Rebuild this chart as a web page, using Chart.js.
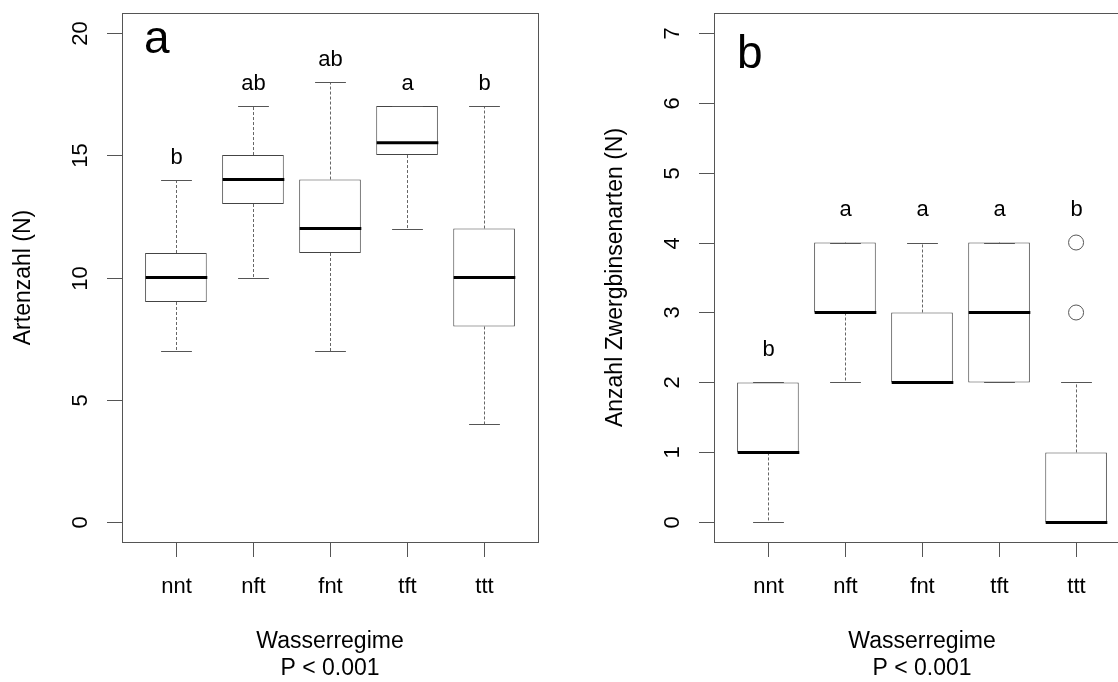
<!DOCTYPE html>
<html>
<head>
<meta charset="utf-8">
<script src="https://cdn.jsdelivr.net/npm/chart.js@4"></script>
<style>
  body { margin: 0; background: #fff; }
  #wrap { position: relative; width: 1118px; height: 682px; overflow: hidden; }
  canvas { position: absolute; top: 0; }
  #left { left: 0; }
  #right { left: 559px; }
</style>
</head>
<body>
<div id="wrap">
  <canvas id="left" width="559" height="682"></canvas>
  <canvas id="right" width="600" height="682"></canvas>
</div>
<script>
// Gruppen (Wasserregime)
const groups = ['nnt', 'nft', 'fnt', 'tft', 'ttt'];

// a: Artenzahl
const artenMin = [7, 10, 7, 12, 4];
const artenQ1 = [9, 13, 11, 15, 8];
const artenMed = [10, 14, 12, 15.5, 10];
const artenQ3 = [11, 15, 14, 17, 12];
const artenMax = [14, 17, 18, 17, 17];
const artenLetters = ['b', 'ab', 'ab', 'a', 'b'];
const artenLetterY = [15, 18, 19, 18, 18];
const artenTicks = [0, 5, 10, 15, 20];

// b: Anzahl Zwergbinsenarten
const zwergMin = [0, 2, 2, 2, 0];
const zwergQ1 = [1, 3, 2, 2, 0];
const zwergMed = [1, 3, 2, 3, 0];
const zwergQ3 = [2, 4, 3, 4, 1];
const zwergMax = [2, 4, 4, 4, 2];
const zwergOutX = ['ttt', 'ttt'];
const zwergOutY = [3, 4];
const zwergLetters = ['b', 'a', 'a', 'a', 'b'];
const zwergLetterY = [2.5, 4.5, 4.5, 4.5, 4.5];
const zwergTicks = [0, 1, 2, 3, 4, 5, 6, 7];

const FONT = '"Liberation Sans", Arial, sans-serif';

const boxPlugin = {
    id: 'boxplot',
    afterDatasetsDraw(chart, args, o) {
        const { ctx, scales: { x, y } } = chart;
        const capHalf = (x.getPixelForValue(1.2) - x.getPixelForValue(1));
        const boxHalf = (x.getPixelForValue(1.4) - x.getPixelForValue(1));
        ctx.save();
        o.min.forEach((mn, i) => {
            const cx = Math.round(x.getPixelForValue(i + 1)) + 0.5;
            const yMin = Math.round(y.getPixelForValue(mn)) + 0.5;
            const yMax = Math.round(y.getPixelForValue(o.max[i])) + 0.5;
            const yQ1 = y.getPixelForValue(o.q1[i]);
            const yQ3 = y.getPixelForValue(o.q3[i]);
            // whiskers
            ctx.strokeStyle = '#666';
            ctx.lineWidth = 1;
            ctx.setLineDash([3, 2]);
            ctx.beginPath();
            ctx.moveTo(cx, yQ3); ctx.lineTo(cx, yMax);
            ctx.moveTo(cx, yQ1); ctx.lineTo(cx, yMin);
            ctx.stroke();
            // caps
            ctx.setLineDash([]);
            ctx.strokeStyle = '#555';
            ctx.beginPath();
            ctx.moveTo(cx - capHalf, yMax); ctx.lineTo(cx + capHalf, yMax);
            ctx.moveTo(cx - capHalf, yMin); ctx.lineTo(cx + capHalf, yMin);
            ctx.stroke();
            // median
            const yMed = y.getPixelForValue(o.med[i]);
            ctx.strokeStyle = '#000';
            ctx.lineWidth = 3;
            ctx.beginPath();
            ctx.moveTo(cx - boxHalf, yMed); ctx.lineTo(cx + boxHalf, yMed);
            ctx.stroke();
            // Buchstaben
            ctx.fillStyle = '#000';
            ctx.font = '22px ' + FONT;
            ctx.textAlign = 'center';
            ctx.textBaseline = 'middle';
            ctx.fillText(o.letters[i], cx, y.getPixelForValue(o.letterY[i]) + 2.5);
        });
        ctx.restore();
    },
    afterDraw(chart, args, o) {
        const { ctx, chartArea: a, scales: { x, y } } = chart;
        ctx.save();
        ctx.strokeStyle = '#555';
        ctx.lineWidth = 1;
        ctx.strokeRect(a.left + 0.5, a.top + 0.5, a.right - a.left, a.bottom - a.top);
        ctx.fillStyle = '#000';
        ctx.font = '22px ' + FONT;
        // y axis
        o.ticks.forEach(t => {
            const py = Math.round(y.getPixelForValue(t)) + 0.5;
            ctx.beginPath();
            ctx.moveTo(a.left - 15, py); ctx.lineTo(a.left, py);
            ctx.stroke();
            ctx.save();
            ctx.translate(a.left - 41, py);
            ctx.rotate(-Math.PI / 2);
            ctx.textAlign = 'center';
            ctx.textBaseline = 'middle';
            ctx.fillText(String(t), 0, 0);
            ctx.restore();
        });
        // x axis
        groups.forEach((g, i) => {
            const px = Math.round(x.getPixelForValue(i + 1)) + 0.5;
            ctx.beginPath();
            ctx.moveTo(px, a.bottom); ctx.lineTo(px, a.bottom + 15);
            ctx.stroke();
            ctx.textAlign = 'center';
            ctx.textBaseline = 'middle';
            ctx.fillText(g, px, a.bottom + 45);
        });
        const mid = (x.getPixelForValue(0.3) + x.getPixelForValue(5.7)) / 2;
        ctx.font = '23px ' + FONT;
        ctx.fillText('Wasserregime', mid, a.bottom + 100);
        ctx.fillText('P < 0.001', mid, a.bottom + 127);
        ctx.save();
        ctx.translate(a.left - 98, (a.top + a.bottom) / 2);
        ctx.rotate(-Math.PI / 2);
        ctx.fillText(o.title, 0, 0);
        ctx.restore();
        // Panelbuchstabe
        ctx.font = '46px ' + FONT;
        ctx.textAlign = 'left';
        ctx.textBaseline = 'alphabetic';
        ctx.fillText(o.panel, a.left + o.panelDx, a.top + o.panelDy);
        ctx.restore();
    }
};

function makeChart(id, d) {
    const datasets = [{
        type: 'bar',
        data: groups.map((g, i) => ({ x: i + 1, y: [d.q1[i], d.q3[i]] })),
        backgroundColor: '#fff',
        borderColor: '#444',
        borderWidth: 1,
        borderSkipped: false,
        barPercentage: 0.8,
        categoryPercentage: 1
    }];
    if (d.outX) {
        datasets.push({
            type: 'scatter',
            data: d.outX.map((g, i) => ({ x: groups.indexOf(g) + 1, y: d.outY[i] })),
            pointRadius: 7.5,
            pointBackgroundColor: 'rgba(0,0,0,0)',
            pointBorderColor: '#555',
            pointBorderWidth: 1
        });
    }
    return new Chart(document.getElementById(id), {
        type: 'bar',
        data: { datasets },
        options: {
            responsive: false,
            animation: false,
            layout: { padding: d.padding },
            scales: {
                x: {
                    type: 'linear', min: 0.3, max: 5.7, offset: false, display: false,
                    // Ticks nur auf den Gruppen, damit die Boxbreite 0.8 Einheiten ist
                    afterBuildTicks: s => { s.ticks = groups.map((g, i) => ({ value: i + 1 })); }
                },
                y: { type: 'linear', min: d.yMin, max: d.yMax, display: false }
            },
            plugins: {
                legend: { display: false },
                tooltip: { enabled: false },
                boxplot: {
                    min: d.min, q1: d.q1, med: d.med, q3: d.q3, max: d.max,
                    letters: d.letters, letterY: d.letterY, ticks: d.ticks,
                    title: d.title, panel: d.panel, panelDx: d.panelDx, panelDy: d.panelDy
                }
            }
        },
        plugins: [boxPlugin]
    });
}

makeChart('left', {
    min: artenMin, q1: artenQ1, med: artenMed, q3: artenQ3, max: artenMax,
    letters: artenLetters, letterY: artenLetterY, ticks: artenTicks,
    yMin: -0.8, yMax: 20.8, title: 'Artenzahl (N)',
    panel: 'a', panelDx: 22, panelDy: 40,
    padding: { left: 122, right: 21, top: 13, bottom: 140 }
});

makeChart('right', {
    min: zwergMin, q1: zwergQ1, med: zwergMed, q3: zwergQ3, max: zwergMax,
    outX: zwergOutX, outY: zwergOutY,
    letters: zwergLetters, letterY: zwergLetterY, ticks: zwergTicks,
    yMin: -0.28, yMax: 7.28, title: 'Anzahl Zwergbinsenarten (N)',
    panel: 'b', panelDx: 23, panelDy: 55,
    padding: { left: 155, right: 29, top: 13, bottom: 140 }
});
</script>
</body>
</html>
